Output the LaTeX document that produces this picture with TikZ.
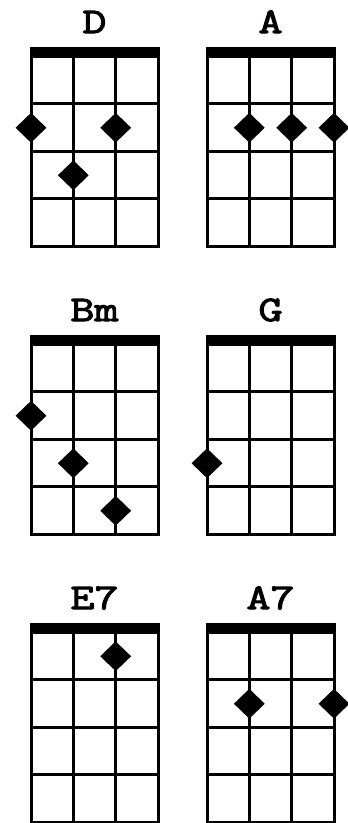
\documentclass[tikz,border=0pt]{standalone}
\usepackage{fontspec}
\newfontfamily\chordfont[FakeBold=3, FakeStretch=1.3]{Latin Modern Mono}
\usetikzlibrary{shapes.geometric}
\tikzset{
  fretline/.style={line width=3pt},
  nutbar/.style={fill=black},
  fingerdot/.style={diamond, fill=black, inner sep=0pt, minimum width=31pt, minimum height=30pt},
  chordname/.style={font=\fontsize{36}{36}\selectfont\chordfont, anchor=base, inner sep=0pt}
}

\begin{document}
\begin{tikzpicture}[x=1pt, y=-1pt]
  \useasboundingbox (0,0) rectangle (348,823);
  % Chord boxes
  \foreach \ox/\oy/\chord in {0/0/D, 176/0/A, 0/288/Bm, 176/288/G, 0/576/E7, 176/576/A7} {
    \node[chordname] (name-\chord) at (\ox+94.5,\oy+33) {\chord};
    \fill[nutbar] (\ox+29.5,\oy+47) rectangle (\ox+159.5,\oy+58);
    \draw[fretline] (\ox+31,\oy+56) rectangle (\ox+158,\oy+246);
    \foreach \s in {73.33, 115.67}
      \draw[fretline] (\ox+\s,\oy+56) -- (\ox+\s,\oy+246);
    \foreach \f in {103.5, 151, 198.5}
      \draw[fretline] (\ox+31,\oy+\f) -- (\ox+158,\oy+\f);
  }
  % D
  \node[fingerdot] (D-1) at (31,127.75) {};
  \node[fingerdot] (D-2) at (73.33,175.25) {};
  \node[fingerdot] (D-3) at (115.67,127.75) {};
  % A
  \node[fingerdot] (A-2) at (249.33,127.75) {};
  \node[fingerdot] (A-3) at (291.67,127.75) {};
  \node[fingerdot] (A-4) at (334,127.75) {};
  % Bm
  \node[fingerdot] (Bm-1) at (31,415.75) {};
  \node[fingerdot] (Bm-2) at (73.33,463.25) {};
  \node[fingerdot] (Bm-3) at (115.67,510.75) {};
  % G
  \node[fingerdot] (G-1) at (207,463.25) {};
  % E7
  \node[fingerdot] (E7-3) at (115.67,656.25) {};
  % A7
  \node[fingerdot] (A7-2) at (249.33,703.75) {};
  \node[fingerdot] (A7-4) at (334,703.75) {};
\end{tikzpicture}
\end{document}
